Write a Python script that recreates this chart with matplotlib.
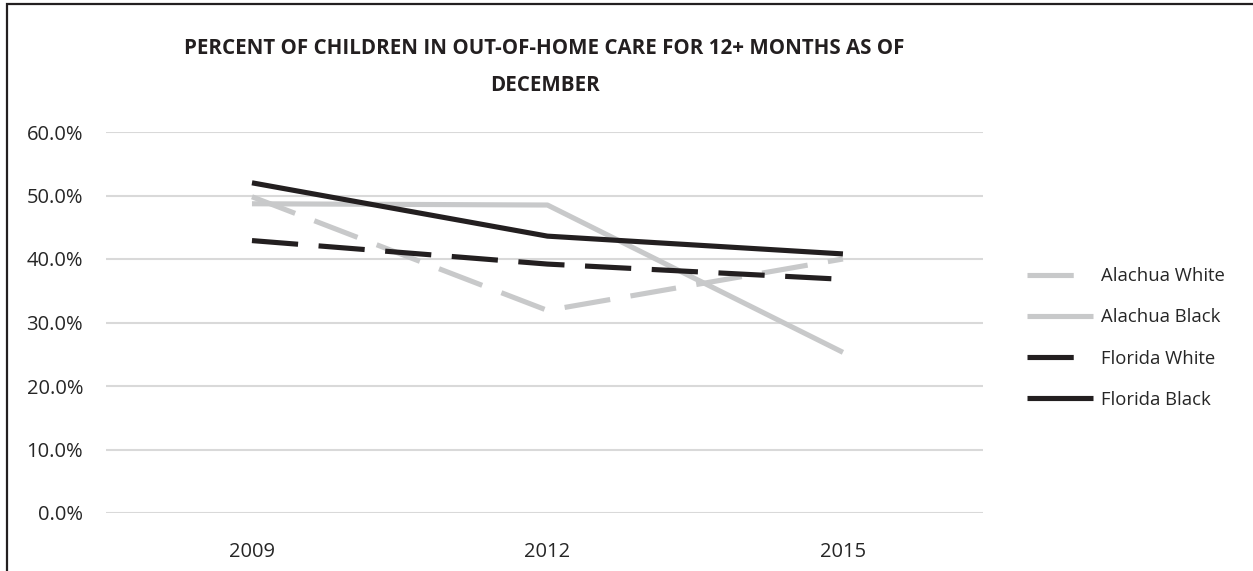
import matplotlib
matplotlib.use("Agg")
import matplotlib.pyplot as plt
from matplotlib.patches import Rectangle
from matplotlib.ticker import PercentFormatter

years = ["2009", "2012", "2015"]
alachua_white = [49.8, 31.9, 40.0]
alachua_black = [48.7, 48.5, 25.3]
florida_white = [42.9, 39.2, 36.8]
florida_black = [52.0, 43.6, 40.8]
series_names = ["Alachua White", "Alachua Black", "Florida White", "Florida Black"]
title = "PERCENT OF CHILDREN IN OUT-OF-HOME CARE FOR 12+ MONTHS AS OF\nDECEMBER"

plt.rcParams['font.family'] = ['Open Sans', 'DejaVu Sans']

W, H = 1253, 571
fig = plt.figure(figsize=(W / 100, H / 100), dpi=100)
ax = fig.add_axes([106 / W, 1 - 513 / H, (983 - 106) / W, (513 - 132) / H])

gray = "#C8C9CA"
black = "#231F20"
lw = 3.7
dash = (0, (9.0, 4.0))

x = list(range(len(years)))
ax.plot(x, alachua_white, color=gray, lw=lw, linestyle=dash, label=series_names[0], solid_capstyle='butt', dash_capstyle='butt')
ax.plot(x, alachua_black, color=gray, lw=lw, label=series_names[1], solid_capstyle='butt')
ax.plot(x, florida_white, color=black, lw=lw, linestyle=dash, label=series_names[2], dash_capstyle='butt')
ax.plot(x, florida_black, color=black, lw=lw, label=series_names[3], solid_capstyle='butt')

ax.set_xlim(-0.494, 2.474)
ax.set_ylim(0, 60)
ax.set_yticks([0, 10, 20, 30, 40, 50, 60])
ax.yaxis.set_major_formatter(PercentFormatter(decimals=1))
ax.set_xticks(x)
ax.set_xticklabels(years)
for s in ax.spines.values():
    s.set_visible(False)
ax.grid(axis='y', color="#D9D9D9", lw=1.5)
ax.set_axisbelow(True)
ax.tick_params(axis='both', length=0, labelsize=14.5, colors="#404040", labelcolor="#262626")
ax.tick_params(axis='y', pad=16.5)
ax.tick_params(axis='x', pad=21)

fig.text((106 + 983) / 2 / W, 1 - 67 / H, title, ha='center', va='center',
         fontsize=14.8, fontweight='bold', color="#231F20", linespacing=1.95)

leg = ax.legend(loc='center left', bbox_to_anchor=(1010 / W, 1 - 338 / H),
                bbox_transform=fig.transFigure, frameon=False, fontsize=13.3,
                handlelength=3.57, handletextpad=0.43, labelspacing=1.26)
for t in leg.get_texts():
    t.set_color("#262626")

fig.patches.append(Rectangle((7 / W, -0.1), 1.2, 1 - 4 / H + 0.1, transform=fig.transFigure,
                             fill=False, edgecolor="#231F20", lw=1.6))

fig.savefig("out.png", dpi=100)
